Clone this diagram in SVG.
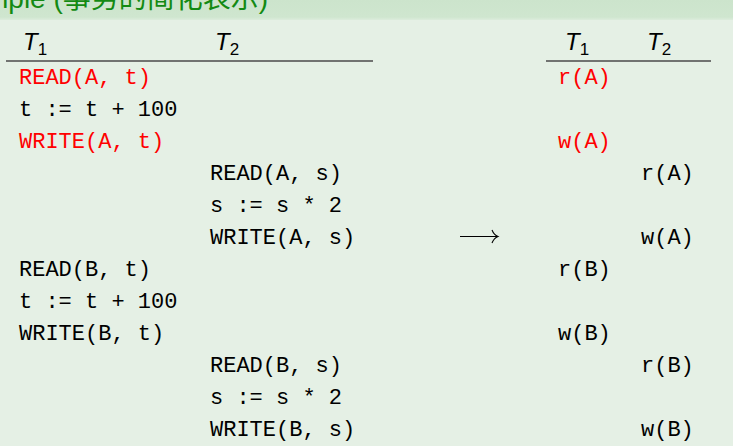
<svg xmlns="http://www.w3.org/2000/svg" width="733" height="446" viewBox="0 0 733 446">
  <defs>
    <linearGradient id="hdr" x1="0" y1="0" x2="0" y2="1">
      <stop offset="0" stop-color="#cce4cc"/>
      <stop offset="0.85" stop-color="#cfe6cf"/>
      <stop offset="1" stop-color="#dcecdc"/>
    </linearGradient>
  </defs>
  <style>
    .code { font-family: "Liberation Mono", "DejaVu Sans Mono", monospace; font-size: 22px; fill: #000; }
    .red { fill: #ff0000; }
    .hd { font-family: "Liberation Sans", "DejaVu Sans", sans-serif; font-size: 24px; font-style: italic; fill: #000; }
    .sub { font-style: normal; font-size: 17px; }
    .title { font-family: "Liberation Sans", "Noto Sans CJK SC", sans-serif; font-size: 28px; fill: #138a13; }
    .cjk { font-family: "Noto Sans CJK SC", sans-serif; }
    .rule { stroke: #4a4a4a; stroke-width: 1.3; }
  </style>
  <rect x="0" y="0" width="733" height="446" fill="#e5f0e5"/>
  <rect x="0" y="0" width="733" height="20" fill="url(#hdr)"/>
  <text class="title" x="-15" y="8">mple (<tspan class="cjk">事务的简化表示</tspan>)</text>

  <g id="left-table">
    <g id="left-header">
      <text class="hd" x="23" y="50">T<tspan class="sub" dy="5">1</tspan></text>
      <text class="hd" x="215" y="50">T<tspan class="sub" dy="5">2</tspan></text>
      <line class="rule" x1="6" y1="61" x2="373" y2="61"/>
    </g>
    <g id="t1-ops-a">
      <text class="code red" x="19" y="84">READ(A, t)</text>
      <text class="code" x="19" y="116">t := t + 100</text>
      <text class="code red" x="19" y="148">WRITE(A, t)</text>
    </g>
    <g id="t2-ops-a">
      <text class="code" x="210" y="180">READ(A, s)</text>
      <text class="code" x="210" y="212">s := s * 2</text>
      <text class="code" x="210" y="244">WRITE(A, s)</text>
    </g>
    <g id="t1-ops-b">
      <text class="code" x="19" y="276">READ(B, t)</text>
      <text class="code" x="19" y="308">t := t + 100</text>
      <text class="code" x="19" y="340">WRITE(B, t)</text>
    </g>
    <g id="t2-ops-b">
      <text class="code" x="210" y="372">READ(B, s)</text>
      <text class="code" x="210" y="404">s := s * 2</text>
      <text class="code" x="210" y="436">WRITE(B, s)</text>
    </g>
  </g>

  <g id="connectors">
    <line x1="460" y1="236.5" x2="497" y2="236.5" stroke="#000" stroke-width="1.1"/>
    <path d="M492 230 Q494 235 498 236.5 Q494 238 492 243" fill="none" stroke="#000" stroke-width="1.1"/>
  </g>

  <g id="right-table">
    <g id="right-header">
      <text class="hd" x="565" y="50">T<tspan class="sub" dy="5">1</tspan></text>
      <text class="hd" x="647" y="50">T<tspan class="sub" dy="5">2</tspan></text>
      <line class="rule" x1="546" y1="61" x2="711" y2="61"/>
    </g>
    <g id="right-t1">
      <text class="code red" x="558" y="84">r(A)</text>
      <text class="code red" x="558" y="148">w(A)</text>
      <text class="code" x="558" y="276">r(B)</text>
      <text class="code" x="558" y="340">w(B)</text>
    </g>
    <g id="right-t2">
      <text class="code" x="641" y="180">r(A)</text>
      <text class="code" x="641" y="244">w(A)</text>
      <text class="code" x="641" y="372">r(B)</text>
      <text class="code" x="641" y="436">w(B)</text>
    </g>
  </g>
</svg>
